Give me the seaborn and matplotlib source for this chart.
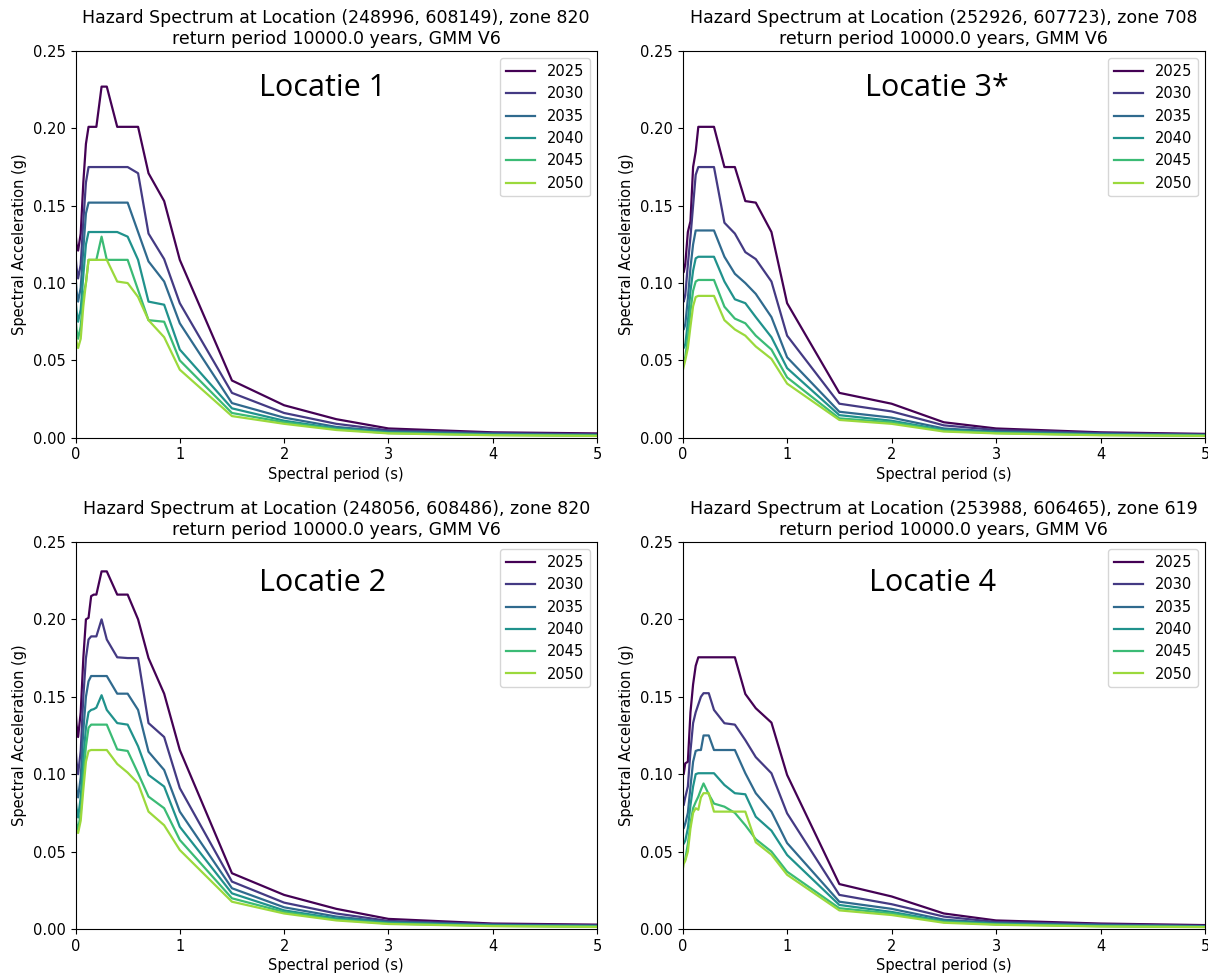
import matplotlib
matplotlib.use("Agg")
import matplotlib.pyplot as plt
import pandas as pd
import seaborn as sns
import numpy as np

# spectral periods (s)
periods = [0.0, 0.01, 0.025, 0.05, 0.075, 0.1, 0.125, 0.15, 0.175, 0.2, 0.25, 0.3,
           0.4, 0.5, 0.6, 0.7, 0.85, 1.0, 1.5, 2.0, 2.5, 3.0, 4.0, 5.0]
years = ['2025', '2030', '2035', '2040', '2045', '2050']

# Locatie 1
l1_2025 = [0.133, 0.125, 0.121, 0.132, 0.165, 0.190, 0.201, 0.201, 0.201, 0.201, 0.227, 0.227,
           0.201, 0.201, 0.201, 0.171, 0.153, 0.115, 0.037, 0.021, 0.012, 0.006, 0.0035, 0.0028]
l1_2030 = [0.118, 0.110, 0.103, 0.112, 0.140, 0.165, 0.175, 0.175, 0.175, 0.175, 0.175, 0.175,
           0.175, 0.175, 0.171, 0.132, 0.1155, 0.087, 0.029, 0.016, 0.009, 0.0048, 0.003, 0.0022]
l1_2035 = [0.105, 0.095, 0.088, 0.097, 0.122, 0.145, 0.152, 0.152, 0.152, 0.152, 0.152, 0.152,
           0.152, 0.152, 0.133, 0.114, 0.101, 0.074, 0.0224, 0.013, 0.007, 0.004, 0.0025, 0.0018]
l1_2040 = [0.090, 0.082, 0.075, 0.083, 0.105, 0.125, 0.133, 0.133, 0.133, 0.133, 0.133, 0.133,
           0.133, 0.130, 0.115, 0.088, 0.086, 0.057, 0.019, 0.011, 0.006, 0.0035, 0.002, 0.0015]
l1_2045 = [0.078, 0.070, 0.064, 0.072, 0.092, 0.100, 0.115, 0.115, 0.115, 0.115, 0.130, 0.115,
           0.115, 0.115, 0.0955, 0.076, 0.075, 0.050, 0.016, 0.010, 0.0055, 0.003, 0.0018, 0.0013]
l1_2050 = [0.068, 0.062, 0.058, 0.064, 0.085, 0.100, 0.115, 0.115, 0.115, 0.115, 0.115, 0.115,
           0.101, 0.100, 0.091, 0.076, 0.065, 0.044, 0.014, 0.009, 0.005, 0.0028, 0.0016, 0.0012]

# Locatie 3*
l2_2025 = [0.115, 0.107, 0.112, 0.133, 0.140, 0.175, 0.185, 0.201, 0.201, 0.201, 0.201, 0.201,
           0.175, 0.175, 0.153, 0.152, 0.133, 0.087, 0.029, 0.022, 0.010, 0.006, 0.0035, 0.0025]
l2_2030 = [0.095, 0.088, 0.092, 0.112, 0.130, 0.150, 0.170, 0.175, 0.175, 0.175, 0.175, 0.175,
           0.139, 0.132, 0.120, 0.1155, 0.101, 0.066, 0.022, 0.017, 0.008, 0.005, 0.003, 0.002]
l2_2035 = [0.075, 0.070, 0.073, 0.090, 0.110, 0.125, 0.134, 0.134, 0.134, 0.134, 0.134, 0.134,
           0.117, 0.106, 0.100, 0.093, 0.078, 0.052, 0.0168, 0.013, 0.006, 0.004, 0.0025, 0.0018]
l2_2040 = [0.062, 0.058, 0.060, 0.075, 0.095, 0.108, 0.116, 0.117, 0.117, 0.117, 0.117, 0.117,
           0.101, 0.0895, 0.087, 0.078, 0.065, 0.045, 0.0146, 0.011, 0.005, 0.0035, 0.002, 0.0015]
l2_2045 = [0.052, 0.050, 0.052, 0.065, 0.082, 0.095, 0.101, 0.102, 0.102, 0.102, 0.102, 0.102,
           0.0847, 0.077, 0.074, 0.066, 0.057, 0.039, 0.0125, 0.010, 0.0045, 0.003, 0.0018, 0.0013]
l2_2050 = [0.043, 0.046, 0.050, 0.058, 0.072, 0.085, 0.091, 0.0917, 0.0917, 0.0917, 0.0917, 0.0917,
           0.076, 0.070, 0.066, 0.059, 0.051, 0.035, 0.0115, 0.009, 0.004, 0.0028, 0.0016, 0.0012]

# Locatie 2
l3_2025 = [0.142, 0.132, 0.124, 0.140, 0.175, 0.200, 0.201, 0.215, 0.216, 0.216, 0.231, 0.231,
           0.216, 0.216, 0.200, 0.175, 0.152, 0.1156, 0.036, 0.022, 0.013, 0.0065, 0.0035, 0.0028]
l3_2030 = [0.118, 0.108, 0.100, 0.115, 0.150, 0.175, 0.187, 0.189, 0.189, 0.189, 0.200, 0.187,
           0.1755, 0.175, 0.175, 0.133, 0.124, 0.091, 0.0306, 0.017, 0.010, 0.0052, 0.003, 0.0023]
l3_2035 = [0.100, 0.090, 0.085, 0.098, 0.128, 0.150, 0.160, 0.1634, 0.1634, 0.1634, 0.1634, 0.1634,
           0.152, 0.152, 0.1415, 0.1145, 0.1027, 0.0758, 0.0263, 0.014, 0.008, 0.0045, 0.0026, 0.002]
l3_2040 = [0.085, 0.078, 0.072, 0.085, 0.110, 0.130, 0.140, 0.1415, 0.142, 0.143, 0.151, 0.1415,
           0.133, 0.132, 0.118, 0.0995, 0.092, 0.066, 0.023, 0.012, 0.0068, 0.004, 0.0022, 0.0017]
l3_2045 = [0.075, 0.068, 0.064, 0.075, 0.098, 0.118, 0.130, 0.132, 0.132, 0.132, 0.132, 0.132,
           0.116, 0.115, 0.1006, 0.0855, 0.078, 0.0575, 0.0198, 0.011, 0.006, 0.0035, 0.002, 0.0015]
l3_2050 = [0.065, 0.063, 0.062, 0.070, 0.090, 0.108, 0.115, 0.1156, 0.1156, 0.1156, 0.1156, 0.1156,
           0.1066, 0.101, 0.094, 0.0758, 0.067, 0.051, 0.0176, 0.010, 0.0055, 0.0032, 0.0018, 0.0013]

# Locatie 4
l4_2025 = [0.108, 0.100, 0.107, 0.108, 0.140, 0.158, 0.170, 0.1755, 0.1755, 0.1755, 0.1755, 0.1755,
           0.1755, 0.1755, 0.1518, 0.1426, 0.1333, 0.0995, 0.029, 0.021, 0.010, 0.0055, 0.0035, 0.0025]
l4_2030 = [0.088, 0.080, 0.085, 0.092, 0.115, 0.133, 0.140, 0.145, 0.150, 0.1523, 0.1523, 0.1415,
           0.1329, 0.132, 0.122, 0.111, 0.1006, 0.0747, 0.022, 0.016, 0.008, 0.0045, 0.003, 0.002]
l4_2035 = [0.070, 0.065, 0.068, 0.075, 0.092, 0.108, 0.115, 0.1156, 0.1156, 0.125, 0.125, 0.1156,
           0.1156, 0.1156, 0.1006, 0.0877, 0.0758, 0.0555, 0.0176, 0.013, 0.006, 0.0038, 0.0025, 0.0017]
l4_2040 = [0.058, 0.055, 0.057, 0.065, 0.080, 0.092, 0.100, 0.1006, 0.1006, 0.1006, 0.1006, 0.1006,
           0.093, 0.0877, 0.087, 0.0725, 0.0635, 0.0478, 0.0155, 0.011, 0.005, 0.0033, 0.002, 0.0014]
l4_2045 = [0.045, 0.043, 0.045, 0.055, 0.068, 0.078, 0.082, 0.0855, 0.090, 0.094, 0.087, 0.081,
           0.079, 0.075, 0.067, 0.058, 0.050, 0.037, 0.0134, 0.010, 0.0045, 0.003, 0.0018, 0.0013]
l4_2050 = [0.038, 0.042, 0.044, 0.050, 0.065, 0.075, 0.078, 0.077, 0.085, 0.0877, 0.0877, 0.0758,
           0.0758, 0.0758, 0.0758, 0.056, 0.048, 0.035, 0.012, 0.009, 0.004, 0.0027, 0.0016, 0.0012]

locations = ['(248996, 608149), zone 820', '(252926, 607723), zone 708',
             '(248056, 608486), zone 820', '(253988, 606465), zone 619']
labels = ['Locatie 1', 'Locatie 3*', 'Locatie 2', 'Locatie 4']

series = [
    [l1_2025, l1_2030, l1_2035, l1_2040, l1_2045, l1_2050],
    [l2_2025, l2_2030, l2_2035, l2_2040, l2_2045, l2_2050],
    [l3_2025, l3_2030, l3_2035, l3_2040, l3_2045, l3_2050],
    [l4_2025, l4_2030, l4_2035, l4_2040, l4_2045, l4_2050],
]

colors = [plt.cm.viridis(v) for v in np.linspace(0, 0.85, 6)]

fig = plt.figure(figsize=(12.08, 9.76), dpi=100)
rects = [
    [0.0625, 0.5515, 0.4317, 0.3962],
    [0.5651, 0.5515, 0.4324, 0.3962],
    [0.0625, 0.0482, 0.4317, 0.3965],
    [0.5651, 0.0482, 0.4324, 0.3965],
]
label_pos = [(0.473, 0.905), (0.487, 0.905), (0.473, 0.895), (0.478, 0.895)]

for i in range(4):
    ax = fig.add_axes(rects[i])
    rows = []
    for yr, vals in zip(years, series[i]):
        for p, v in zip(periods, vals):
            rows.append({'period': p, 'sa': v, 'year': yr})
    df = pd.DataFrame(rows)
    sns.lineplot(data=df, x='period', y='sa', hue='year', palette=colors,
                 linewidth=1.6, ax=ax)
    ax.set_xlim(0, 5)
    ax.set_ylim(0, 0.25)
    ax.set_yticks(np.arange(0, 0.26, 0.05))
    ax.set_yticklabels(['%.2f' % t for t in np.arange(0, 0.26, 0.05)])
    ax.tick_params(labelsize=10.5)
    ax.set_xlabel('Spectral period (s)', fontsize=10.5, labelpad=3)
    ax.set_ylabel('Spectral Acceleration (g)', fontsize=10.5)
    ax.set_title('Hazard Spectrum at Location ' + locations[i] +
                 '\nreturn period 10000.0 years, GMM V6', fontsize=12.5, pad=5)
    handles, labs = ax.get_legend_handles_labels()
    ax.legend(handles, labs, loc='upper right', fontsize=10.5)
    ax.text(label_pos[i][0], label_pos[i][1], labels[i], transform=ax.transAxes,
            ha='center', va='center', fontsize=22, family='Open Sans')

plt.savefig('out.png', dpi=100)
